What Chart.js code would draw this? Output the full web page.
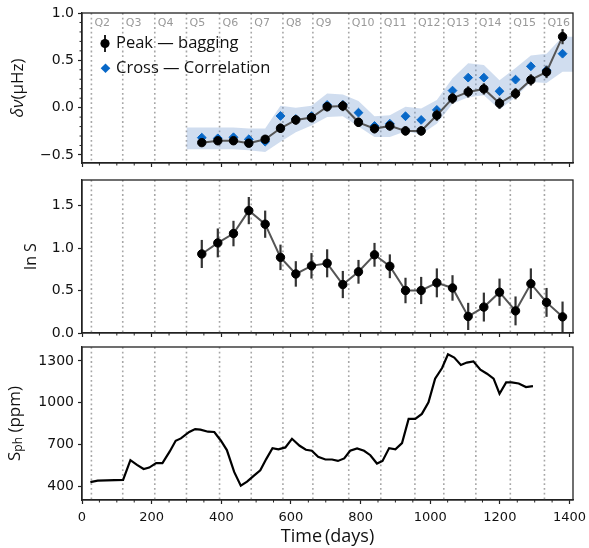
<!DOCTYPE html>
<html>
<head>
<meta charset="utf-8">
<script src="https://cdn.jsdelivr.net/npm/chart.js@4"></script>
<style>
  html, body { margin: 0; padding: 0; background: #fff; }
  #wrap { position: relative; width: 589px; height: 548px; }
  .panel { position: absolute; left: 0; width: 589px; }
</style>
</head>
<body>
<div id="wrap">
  <div class="panel" style="top:0;height:172px"><canvas id="c1"></canvas></div>
  <div class="panel" style="top:172px;height:170px"><canvas id="c2"></canvas></div>
  <div class="panel" style="top:342px;height:206px"><canvas id="c3"></canvas></div>
</div>
<script>
// x axis
const xTicks = [0, 200, 400, 600, 800, 1000, 1200, 1400];
const quarterDays = [27, 117, 209, 300, 395, 486, 577, 663, 766, 858, 956, 1039, 1131, 1230, 1328];
const quarterNames = ['Q2', 'Q3', 'Q4', 'Q5', 'Q6', 'Q7', 'Q8', 'Q9', 'Q10', 'Q11', 'Q12', 'Q13', 'Q14', 'Q15', 'Q16'];

// frequency shifts
const obsDays = [344, 390, 435, 479, 526, 570, 614, 659, 704, 749, 794, 840, 884, 929, 974, 1019, 1064, 1109, 1154, 1199, 1245, 1289, 1334, 1380];
const dnuPeak = [-0.37, -0.35, -0.35, -0.376, -0.334, -0.218, -0.13, -0.105, 0.01, 0.018, -0.155, -0.222, -0.193, -0.246, -0.246, -0.08, 0.099, 0.166, 0.198, 0.046, 0.148, 0.293, 0.377, 0.75];
const dnuPeakErr = [0.04, 0.035, 0.04, 0.04, 0.04, 0.05, 0.05, 0.05, 0.05, 0.055, 0.05, 0.05, 0.05, 0.05, 0.05, 0.06, 0.06, 0.06, 0.06, 0.06, 0.06, 0.06, 0.065, 0.08];
const dnuCross = [-0.317, -0.324, -0.313, -0.334, -0.36, -0.088, -0.12, -0.09, 0.028, 0.03, -0.053, -0.193, -0.17, -0.091, -0.13, -0.024, 0.18, 0.317, 0.317, 0.173, 0.296, 0.437, 0.395, 0.57];
const bandDays = [300, 344, 390, 435, 479, 526, 570, 614, 659, 704, 749, 794, 840, 884, 929, 974, 1019, 1064, 1109, 1154, 1199, 1245, 1289, 1334, 1380, 1420];
const bandLow = [-0.44, -0.44, -0.44, -0.44, -0.45, -0.47, -0.36, -0.26, -0.19, -0.10, -0.09, -0.20, -0.31, -0.31, -0.25, -0.28, -0.17, 0.04, 0.11, 0.13, -0.02, 0.11, 0.27, 0.26, 0.38, 0.38];
const bandHigh = [-0.21, -0.21, -0.21, -0.21, -0.22, -0.22, 0.02, 0.0, 0.02, 0.15, 0.14, 0.07, -0.09, -0.08, 0.01, -0.01, 0.08, 0.31, 0.47, 0.45, 0.29, 0.42, 0.55, 0.57, 0.75, 0.75];
const dnuTicks = [-0.5, 0, 0.5, 1.0];

// ln S
const lnS = [0.93, 1.06, 1.17, 1.44, 1.28, 0.89, 0.695, 0.79, 0.82, 0.57, 0.72, 0.92, 0.785, 0.50, 0.50, 0.59, 0.53, 0.195, 0.305, 0.48, 0.26, 0.58, 0.36, 0.19];
const lnSErr = [0.165, 0.17, 0.15, 0.16, 0.16, 0.15, 0.15, 0.15, 0.165, 0.16, 0.14, 0.14, 0.14, 0.15, 0.16, 0.17, 0.15, 0.16, 0.17, 0.16, 0.17, 0.18, 0.17, 0.18];
const lnSTicks = [0, 0.5, 1.0, 1.5];

// photometric activity proxy
const sphDays = [24, 45, 118, 139, 158, 177, 193, 213, 231, 252, 269, 284, 308, 325, 340, 362, 380, 399, 416, 437, 456, 474, 493, 512, 529, 547, 564, 584, 603, 625, 643, 660, 678, 699, 718, 735, 753, 770, 790, 810, 828, 847, 863, 882, 900, 919, 938, 957, 976, 995, 1014, 1034, 1051, 1069, 1088, 1105, 1124, 1144, 1163, 1182, 1199, 1218, 1234, 1254, 1275, 1295];
const sphPpm = [429, 439, 444, 586, 552, 523, 533, 565, 565, 649, 726, 743, 789, 810, 806, 791, 789, 726, 659, 502, 403, 432, 473, 514, 594, 673, 664, 678, 740, 690, 661, 654, 610, 591, 591, 581, 599, 654, 671, 654, 622, 562, 581, 673, 664, 709, 883, 883, 919, 1003, 1172, 1249, 1348, 1324, 1271, 1288, 1297, 1237, 1208, 1172, 1064, 1145, 1145, 1138, 1112, 1119];
const sphTicks = [400, 700, 1000, 1300];

const pts = (xs, ys) => xs.map((x, i) => ({ x: x, y: ys[i] }));
const fmt1 = v => v.toFixed(1).replace('-', '\u2212');
const titleFont = '"Open Sans", sans-serif';

function drawVertical(ctx, cx, cy, parts) {
  let w = 0;
  parts.forEach(p => { ctx.font = p.font; p.w = ctx.measureText(p.t).width; w += p.w; });
  ctx.save();
  ctx.translate(cx, cy);
  ctx.rotate(-Math.PI / 2);
  ctx.textBaseline = 'middle';
  ctx.textAlign = 'left';
  ctx.fillStyle = '#111';
  let pos = -w / 2;
  parts.forEach(p => { ctx.font = p.font; ctx.fillText(p.t, pos, p.dy || 0); pos += p.w; });
  ctx.restore();
}

const decor = {
  id: 'decor',
  beforeDatasetsDraw(chart) {
    const { ctx, chartArea: a, scales: { x } } = chart;
    ctx.save();
    ctx.strokeStyle = '#a6a6a6';
    ctx.lineWidth = 1.6;
    ctx.setLineDash([1.8, 2.9]);
    quarterDays.forEach(d => {
      const px = x.getPixelForValue(d);
      ctx.beginPath();
      ctx.moveTo(px, a.top);
      ctx.lineTo(px, a.bottom);
      ctx.stroke();
    });
    ctx.restore();
  },
  beforeDatasetDraw(chart, args) {
    const ds = chart.data.datasets[args.index];
    if (!ds.errors) return;
    const { ctx, scales: { x, y } } = chart;
    ctx.save();
    ctx.strokeStyle = '#333';
    ctx.lineWidth = 2.2;
    ds.data.forEach((p, i) => {
      const px = x.getPixelForValue(p.x);
      ctx.beginPath();
      ctx.moveTo(px, y.getPixelForValue(p.y - ds.errors[i]));
      ctx.lineTo(px, y.getPixelForValue(p.y + ds.errors[i]));
      ctx.stroke();
    });
    ctx.restore();
  },
  afterDraw(chart, args, o) {
    const { ctx, chartArea: a, scales: { x, y } } = chart;
    ctx.save();
    ctx.strokeStyle = '#222';
    ctx.lineWidth = 1.3;
    ctx.strokeRect(a.left, a.top, a.right - a.left, a.bottom - a.top);

    // minor ticks
    ctx.lineWidth = 1;
    ctx.beginPath();
    for (let d = 50; d <= 1400; d += 50) {
      if (d % 200 === 0) continue;
      const px = x.getPixelForValue(d);
      ctx.moveTo(px, a.bottom);
      ctx.lineTo(px, a.bottom + 2.5);
    }
    if (o.yMinor) {
      for (let k = -5; k <= 10; k++) {
        if (k % 5 === 0) continue;
        const py = y.getPixelForValue(k / 10);
        ctx.moveTo(a.left, py);
        ctx.lineTo(a.left - 2.5, py);
      }
    }
    ctx.stroke();

    // quarter labels
    if (o.quarters) {
      ctx.font = '11px "DejaVu Sans"';
      ctx.fillStyle = '#999';
      ctx.textBaseline = 'middle';
      ctx.textAlign = 'left';
      quarterDays.forEach((d, i) => ctx.fillText(quarterNames[i], x.getPixelForValue(d) + 3, a.top + 10));
    }

    // legend
    if (o.legend) {
      ctx.strokeStyle = '#222';
      ctx.lineWidth = 2;
      ctx.beginPath();
      ctx.moveTo(105, 35);
      ctx.lineTo(105, 52);
      ctx.stroke();
      ctx.fillStyle = '#000';
      ctx.beginPath();
      ctx.arc(105, 43.5, 4.6, 0, Math.PI * 2);
      ctx.fill();
      ctx.fillStyle = '#0868c8';
      ctx.beginPath();
      ctx.moveTo(105.5, 63.5);
      ctx.lineTo(110.3, 68.3);
      ctx.lineTo(105.5, 73.1);
      ctx.lineTo(100.7, 68.3);
      ctx.closePath();
      ctx.fill();
      ctx.font = '16.5px ' + titleFont;
      ctx.fillStyle = '#111';
      ctx.textBaseline = 'middle';
      ctx.textAlign = 'left';
      ctx.fillText('Peak \u2014 bagging', 116, 43);
      ctx.fillText('Cross \u2014 Correlation', 116, 68);
    }

    // axis titles
    if (o.yTitle) drawVertical(ctx, o.yTitleX, (a.top + a.bottom) / 2, o.yTitle);
    if (o.xTitle) {
      ctx.font = '18px ' + titleFont;
      ctx.fillStyle = '#111';
      ctx.textAlign = 'center';
      ctx.textBaseline = 'middle';
      ctx.fillText(o.xTitle, (a.left + a.right) / 2, 195);
    }
    ctx.restore();
  }
};

function xScale(labels, height) {
  return {
    type: 'linear', min: 0, max: 1410,
    afterBuildTicks: s => { s.ticks = xTicks.map(v => ({ value: v })); },
    afterFit: s => { s.height = height; s.paddingLeft = 0; s.paddingRight = 0; },
    grid: { drawOnChartArea: false, drawTicks: true, tickLength: 4, tickColor: '#222', tickWidth: 1.2 },
    border: { display: true, color: '#222', width: 1.3 },
    ticks: { display: labels, color: '#111', font: { family: 'DejaVu Sans', size: 13 }, padding: 6, maxRotation: 0, autoSkip: false, callback: v => String(v) }
  };
}

function yScale(min, max, ticks, cb) {
  return {
    type: 'linear', min: min, max: max,
    afterBuildTicks: s => { s.ticks = ticks.map(v => ({ value: v })); },
    afterFit: s => { s.width = 82; s.paddingTop = 0; s.paddingBottom = 0; },
    grid: { drawOnChartArea: false, drawTicks: true, tickLength: 4, tickColor: '#222', tickWidth: 1.2 },
    border: { display: true, color: '#222', width: 1.3 },
    ticks: { color: '#111', font: { family: 'DejaVu Sans', size: 14 }, padding: 4, callback: cb }
  };
}

function baseOptions(padTop, xs, ys, decorOpts) {
  return {
    responsive: true,
    maintainAspectRatio: false,
    animation: false,
    events: [],
    layout: { padding: { top: padTop, left: 0, right: 16, bottom: 0 } },
    scales: { x: xs, y: ys },
    plugins: { legend: { display: false }, tooltip: { enabled: false }, decor: decorOpts }
  };
}

new Chart(document.getElementById('c1'), {
  type: 'line',
  data: {
    datasets: [
      { data: pts(bandDays, bandLow), borderWidth: 0, pointRadius: 0, fill: false, order: 5 },
      { data: pts(bandDays, bandHigh), borderWidth: 0, pointRadius: 0, fill: '-1', backgroundColor: 'rgba(110,150,205,0.32)', order: 4 },
      { data: pts(obsDays, dnuCross), showLine: false, pointStyle: 'rectRot', pointRadius: 4.4, pointBorderWidth: 1, pointBackgroundColor: '#0868c8', pointBorderColor: '#0868c8', order: 2 },
      { data: pts(obsDays, dnuPeak), errors: dnuPeakErr, borderColor: '#555', borderWidth: 2, pointRadius: 4.2, pointBorderWidth: 1, pointBackgroundColor: '#000', pointBorderColor: '#000', tension: 0, order: 1 }
    ]
  },
  options: baseOptions(13, xScale(false, 9), yScale(-0.585, 1.0, dnuTicks, fmt1), {
    quarters: true, legend: true, yMinor: true, yTitleX: 18,
    yTitle: [{ t: '\u03b4\u03bd', font: 'italic 17px ' + titleFont }, { t: '(\u03bcHz)', font: '17px ' + titleFont }]
  }),
  plugins: [decor]
});

new Chart(document.getElementById('c2'), {
  type: 'line',
  data: {
    datasets: [
      { data: pts(obsDays, lnS), errors: lnSErr, borderColor: '#555', borderWidth: 2, pointRadius: 4.2, pointBorderWidth: 1, pointBackgroundColor: '#000', pointBorderColor: '#000', tension: 0 }
    ]
  },
  options: baseOptions(8, xScale(false, 9), yScale(0, 1.8, lnSTicks, fmt1), {
    yTitleX: 31,
    yTitle: [{ t: 'ln S', font: '16px ' + titleFont }]
  }),
  plugins: [decor]
});

new Chart(document.getElementById('c3'), {
  type: 'line',
  data: {
    datasets: [
      { data: pts(sphDays, sphPpm), borderColor: '#000', borderWidth: 2.2, pointRadius: 0, tension: 0 }
    ]
  },
  options: baseOptions(5, xScale(true, 48), yScale(300, 1400, sphTicks, v => String(v)), {
    yTitleX: 15, xTitle: 'Time\u2009(days)',
    yTitle: [{ t: 'S', font: '17px ' + titleFont }, { t: 'ph', font: '12px ' + titleFont, dy: 4 }, { t: ' (ppm)', font: '17px ' + titleFont }]
  }),
  plugins: [decor]
});
</script>
</body>
</html>
